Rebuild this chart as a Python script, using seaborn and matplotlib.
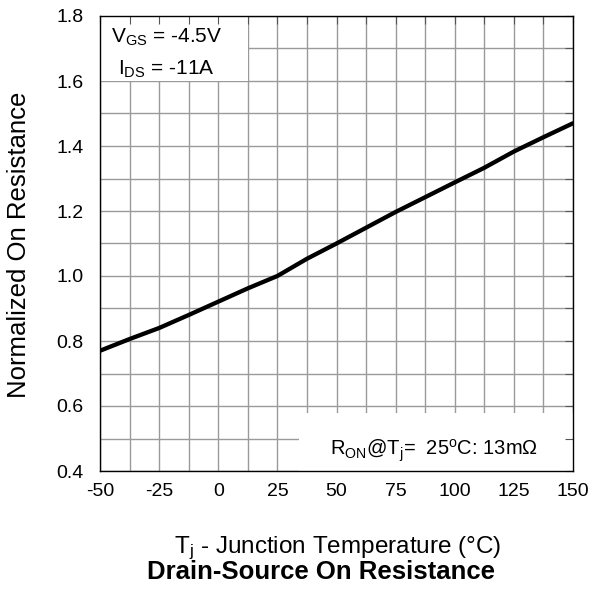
import numpy as np
import pandas as pd
import seaborn as sns
import matplotlib
matplotlib.use("Agg")
import matplotlib.pyplot as plt
from matplotlib.patches import Rectangle
from matplotlib.ticker import MultipleLocator

# ---- data ----
temperature = [-50, -37.5, -25, -12.5, 0, 12.5, 25, 37.5, 50, 75, 100, 112.5, 125, 137.5, 150]
norm_ron = [0.77, 0.806, 0.84, 0.88, 0.921, 0.962, 1.00, 1.053, 1.10, 1.197, 1.288, 1.333, 1.383, 1.427, 1.47]
x_ticks = [-50, -25, 0, 25, 50, 75, 100, 125, 150]
y_ticks = [0.4, 0.6, 0.8, 1.0, 1.2, 1.4, 1.6, 1.8]

df = pd.DataFrame({"T": temperature, "R": norm_ron})

sns.set_theme(style="white")
plt.rcParams['font.family'] = ['Liberation Sans', 'DejaVu Sans']
plt.rcParams['mathtext.fontset'] = 'custom'
plt.rcParams['mathtext.rm'] = 'Liberation Sans'
plt.rcParams['mathtext.it'] = 'Liberation Sans'
for k in ['text.color', 'axes.labelcolor', 'xtick.color', 'ytick.color']:
    plt.rcParams[k] = 'black'

W, H = 593, 593
fig = plt.figure(figsize=(W / 100, H / 100), dpi=100)
rect = [100 / W, 1 - 471 / H, (573 - 100) / W, (471 - 16) / H]
ax = fig.add_axes(rect)
ax.set_axisbelow(True)

ax.set_xlim(-50, 150)
ax.set_ylim(0.4, 1.8)
ax.xaxis.set_major_locator(MultipleLocator(12.5))
ax.yaxis.set_major_locator(MultipleLocator(0.1))
ax.grid(True, color="#9a9a9a", linewidth=1.0)
ax.tick_params(length=0, labelbottom=False, labelleft=False)
for s in ax.spines.values():
    s.set_visible(False)

# white annotation boxes (hide grid underneath)
ax.add_patch(Rectangle((-50, 1.6), 62.5, 0.2, facecolor="white", edgecolor="none", zorder=1))
ax.add_patch(Rectangle((34, 0.4), 116, 0.178, facecolor="white", edgecolor="none", zorder=1))

sns.lineplot(data=df, x="T", y="R", ax=ax, color="black", linewidth=3.1, zorder=3)
ax.set_xlabel("")
ax.set_ylabel("")
ax.set_xlim(-50, 150)
ax.set_ylim(0.4, 1.8)

# overlay axes for ticks, spines and labels
ax2 = fig.add_axes(rect)
ax2.patch.set_alpha(0)
ax2.set_xlim(-50, 150)
ax2.set_ylim(0.4, 1.8)
ax2.set_xticks(x_ticks)
ax2.set_yticks(y_ticks)
ax2.set_xticklabels([f"{v:g}" for v in x_ticks])
ax2.set_yticklabels([f"{v:.1f}" for v in y_ticks])
ax2.xaxis.set_minor_locator(MultipleLocator(12.5))
ax2.yaxis.set_minor_locator(MultipleLocator(0.1))
ax2.tick_params(which="both", direction="in", top=True, right=True, length=6, width=0.8,
                color="#555555", labelsize=14)
ax2.tick_params(axis="y", pad=12)
ax2.tick_params(axis="x", pad=9)
ax2.grid(False)
for s in ax2.spines.values():
    s.set_visible(True)
    s.set_color("black")
    s.set_linewidth(1.0)

ax2.text(-45.3, 1.717, r"V$_{\mathregular{GS}}$ = -4.5V", fontsize=15, va="baseline", ha="left")
ax2.text(-42.3, 1.618, r"I$_{\mathregular{DS}}$ = -11A", fontsize=15, va="baseline", ha="left")
ax2.text(135.2, 0.449, r"R$_{\mathregular{ON}}$@T$_{\mathregular{j}}$=  25$^{\mathregular{o}}$C: 13m$\Omega$",
         fontsize=14.5, va="baseline", ha="right")

fig.text(19 / W, 1 - 245 / H, "Normalized On Resistance", rotation=90, fontsize=18.5,
         ha="center", va="center")
fig.text(337.5 / W, 1 - 553 / H, r"T$_{\mathregular{j}}$ - Junction Temperature (°C)", fontsize=17.5,
         ha="center", va="baseline")
fig.text(321 / W, 1 - 579 / H, "Drain-Source On Resistance", fontsize=18.5, fontweight="bold",
         ha="center", va="baseline")

fig.savefig("out.png", dpi=100)
